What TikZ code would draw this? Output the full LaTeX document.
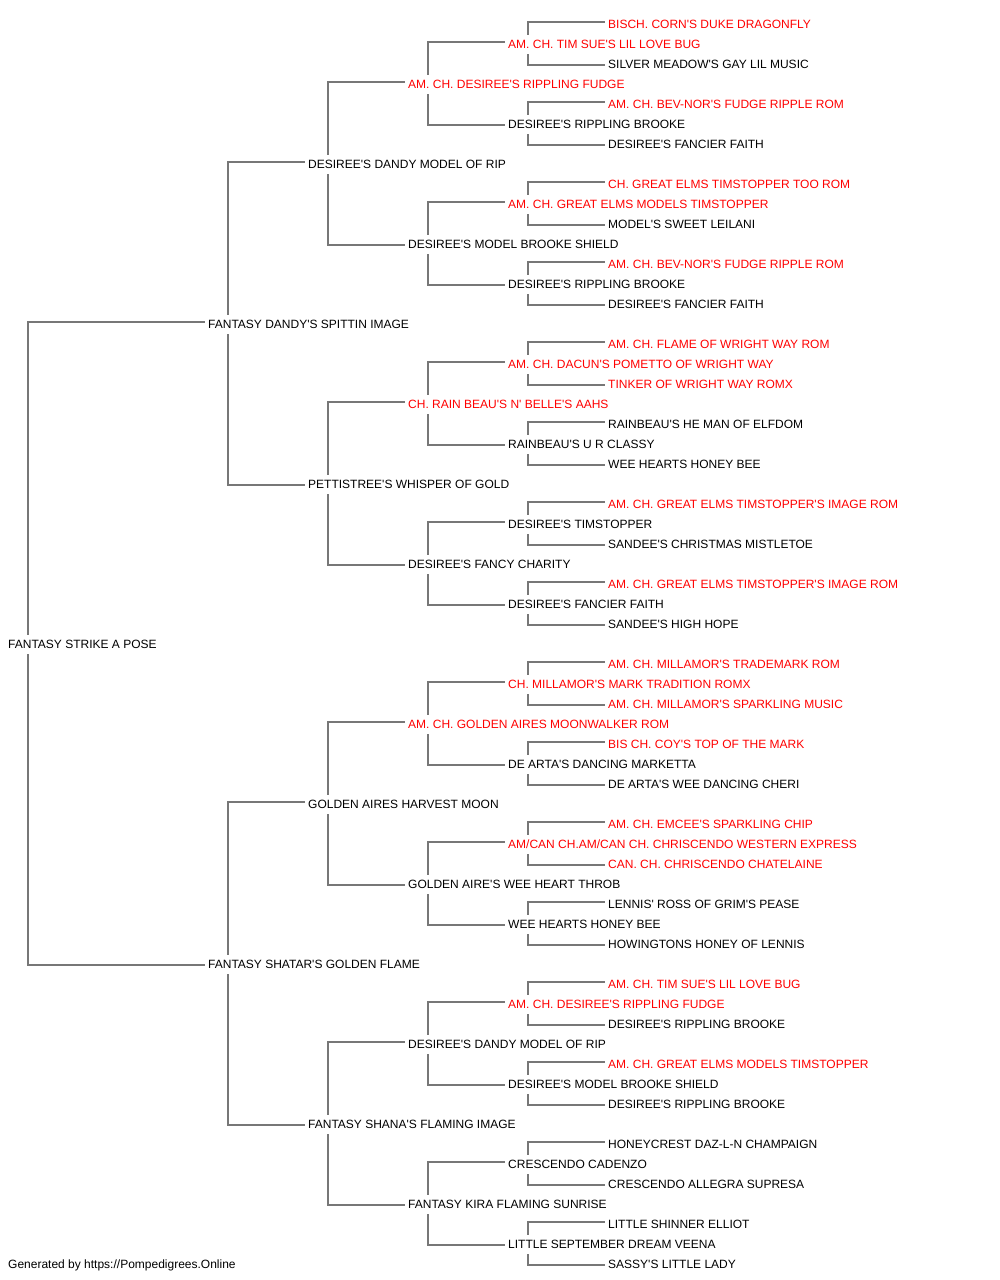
\documentclass[tikz,border=0pt]{standalone}
\usepackage{fontspec}
\newfontfamily\pedfont{Liberation Sans}
\pgfdeclarelayer{background}
\pgfsetlayers{background,main}
\definecolor{pedred}{HTML}{FF0000}
\definecolor{pedline}{HTML}{777777}
\tikzset{
  pn/.style={anchor=base west, fill=white, inner xsep=3pt, inner ysep=3pt,
    text height=10pt, text depth=3pt, font=\pedfont\fontsize{12pt}{14pt}\selectfont},
  conn/.style={draw=pedline, line width=1.5pt}
}
\newcommand{\pnode}[4]{\node[pn,text=#3] (n#1) at ({#2-3},{-(28+20*#1)}) {#4};}
\newcommand{\pconn}[3]{\draw[conn] ([yshift=2.5pt]n#2.west) -| ([xshift=23pt]n#1.west) |- ([yshift=-0.5pt]n#3.west);}
\begin{document}
\begin{tikzpicture}[x=1pt,y=1pt]
\useasboundingbox (0,0) rectangle (1000,-1280);
\pnode{0}{608}{pedred}{BISCH. CORN'S DUKE DRAGONFLY}
\pnode{1}{508}{pedred}{AM. CH. TIM SUE'S LIL LOVE BUG}
\pnode{2}{608}{black}{SILVER MEADOW'S GAY LIL MUSIC}
\pnode{3}{408}{pedred}{AM. CH. DESIREE'S RIPPLING FUDGE}
\pnode{4}{608}{pedred}{AM. CH. BEV-NOR'S FUDGE RIPPLE ROM}
\pnode{5}{508}{black}{DESIREE'S RIPPLING BROOKE}
\pnode{6}{608}{black}{DESIREE'S FANCIER FAITH}
\pnode{7}{308}{black}{DESIREE'S DANDY MODEL OF RIP}
\pnode{8}{608}{pedred}{CH. GREAT ELMS TIMSTOPPER TOO ROM}
\pnode{9}{508}{pedred}{AM. CH. GREAT ELMS MODELS TIMSTOPPER}
\pnode{10}{608}{black}{MODEL'S SWEET LEILANI}
\pnode{11}{408}{black}{DESIREE'S MODEL BROOKE SHIELD}
\pnode{12}{608}{pedred}{AM. CH. BEV-NOR'S FUDGE RIPPLE ROM}
\pnode{13}{508}{black}{DESIREE'S RIPPLING BROOKE}
\pnode{14}{608}{black}{DESIREE'S FANCIER FAITH}
\pnode{15}{208}{black}{FANTASY DANDY'S SPITTIN IMAGE}
\pnode{16}{608}{pedred}{AM. CH. FLAME OF WRIGHT WAY ROM}
\pnode{17}{508}{pedred}{AM. CH. DACUN'S POMETTO OF WRIGHT WAY}
\pnode{18}{608}{pedred}{TINKER OF WRIGHT WAY ROMX}
\pnode{19}{408}{pedred}{CH. RAIN BEAU'S N' BELLE'S AAHS}
\pnode{20}{608}{black}{RAINBEAU'S HE MAN OF ELFDOM}
\pnode{21}{508}{black}{RAINBEAU'S U R CLASSY}
\pnode{22}{608}{black}{WEE HEARTS HONEY BEE}
\pnode{23}{308}{black}{PETTISTREE'S WHISPER OF GOLD}
\pnode{24}{608}{pedred}{AM. CH. GREAT ELMS TIMSTOPPER'S IMAGE ROM}
\pnode{25}{508}{black}{DESIREE'S TIMSTOPPER}
\pnode{26}{608}{black}{SANDEE'S CHRISTMAS MISTLETOE}
\pnode{27}{408}{black}{DESIREE'S FANCY CHARITY}
\pnode{28}{608}{pedred}{AM. CH. GREAT ELMS TIMSTOPPER'S IMAGE ROM}
\pnode{29}{508}{black}{DESIREE'S FANCIER FAITH}
\pnode{30}{608}{black}{SANDEE'S HIGH HOPE}
\pnode{31}{8}{black}{FANTASY STRIKE A POSE}
\pnode{32}{608}{pedred}{AM. CH. MILLAMOR'S TRADEMARK ROM}
\pnode{33}{508}{pedred}{CH. MILLAMOR'S MARK TRADITION ROMX}
\pnode{34}{608}{pedred}{AM. CH. MILLAMOR'S SPARKLING MUSIC}
\pnode{35}{408}{pedred}{AM. CH. GOLDEN AIRES MOONWALKER ROM}
\pnode{36}{608}{pedred}{BIS CH. COY'S TOP OF THE MARK}
\pnode{37}{508}{black}{DE ARTA'S DANCING MARKETTA}
\pnode{38}{608}{black}{DE ARTA'S WEE DANCING CHERI}
\pnode{39}{308}{black}{GOLDEN AIRES HARVEST MOON}
\pnode{40}{608}{pedred}{AM. CH. EMCEE'S SPARKLING CHIP}
\pnode{41}{508}{pedred}{AM/CAN CH.AM/CAN CH. CHRISCENDO WESTERN EXPRESS}
\pnode{42}{608}{pedred}{CAN. CH. CHRISCENDO CHATELAINE}
\pnode{43}{408}{black}{GOLDEN AIRE'S WEE HEART THROB}
\pnode{44}{608}{black}{LENNIS' ROSS OF GRIM'S PEASE}
\pnode{45}{508}{black}{WEE HEARTS HONEY BEE}
\pnode{46}{608}{black}{HOWINGTONS HONEY OF LENNIS}
\pnode{47}{208}{black}{FANTASY SHATAR'S GOLDEN FLAME}
\pnode{48}{608}{pedred}{AM. CH. TIM SUE'S LIL LOVE BUG}
\pnode{49}{508}{pedred}{AM. CH. DESIREE'S RIPPLING FUDGE}
\pnode{50}{608}{black}{DESIREE'S RIPPLING BROOKE}
\pnode{51}{408}{black}{DESIREE'S DANDY MODEL OF RIP}
\pnode{52}{608}{pedred}{AM. CH. GREAT ELMS MODELS TIMSTOPPER}
\pnode{53}{508}{black}{DESIREE'S MODEL BROOKE SHIELD}
\pnode{54}{608}{black}{DESIREE'S RIPPLING BROOKE}
\pnode{55}{308}{black}{FANTASY SHANA'S FLAMING IMAGE}
\pnode{56}{608}{black}{HONEYCREST DAZ-L-N CHAMPAIGN}
\pnode{57}{508}{black}{CRESCENDO CADENZO}
\pnode{58}{608}{black}{CRESCENDO ALLEGRA SUPRESA}
\pnode{59}{408}{black}{FANTASY KIRA FLAMING SUNRISE}
\pnode{60}{608}{black}{LITTLE SHINNER ELLIOT}
\pnode{61}{508}{black}{LITTLE SEPTEMBER DREAM VEENA}
\pnode{62}{608}{black}{SASSY'S LITTLE LADY}
\node[pn,text=black] (footer) at (5,-1268) {Generated by https://Pompedigrees.Online};
\begin{pgfonlayer}{background}
\fill[white] (0,0) rectangle (1000,-1280);
\pconn{31}{15}{47}
\pconn{15}{7}{23}
\pconn{47}{39}{55}
\foreach \p in {7,23,39,55}{%
  \pgfmathtruncatemacro\pa{\p-4}\pgfmathtruncatemacro\pb{\p+4}\pconn{\p}{\pa}{\pb}}
\foreach \p in {3,11,...,59}{%
  \pgfmathtruncatemacro\pa{\p-2}\pgfmathtruncatemacro\pb{\p+2}\pconn{\p}{\pa}{\pb}}
\foreach \p in {1,5,...,61}{%
  \pgfmathtruncatemacro\pa{\p-1}\pgfmathtruncatemacro\pb{\p+1}\pconn{\p}{\pa}{\pb}}
\end{pgfonlayer}
\end{tikzpicture}
\end{document}
